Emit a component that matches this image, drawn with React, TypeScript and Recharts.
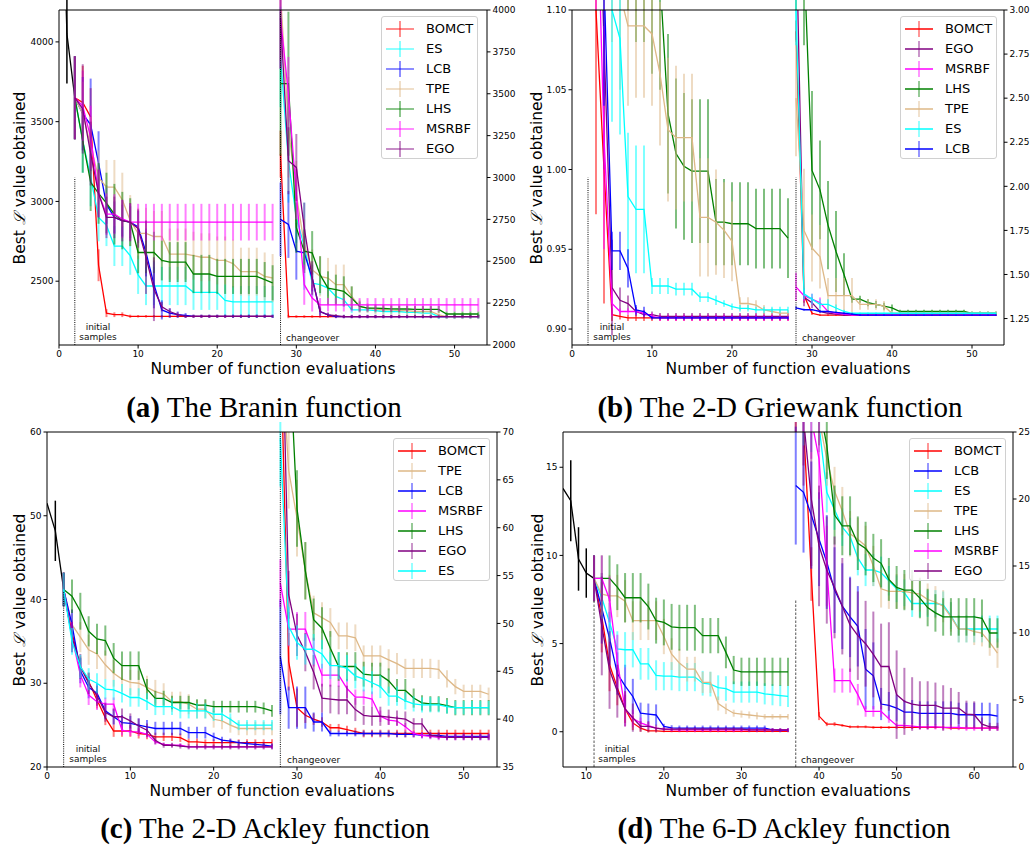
import React from 'react';
import { ComposedChart, Line, XAxis, YAxis, ErrorBar, ReferenceLine } from 'recharts';

const COLORS: Record<string, string> = {
  BOMCT: '#ff0000', ES: '#00ffff', LCB: '#0000ff', TPE: '#deb887',
  LHS: '#008000', MSRBF: '#ff00ff', EGO: '#800080',
};

// ---------- (a) Branin ----------
const A_ORDER = ['BOMCT', 'ES', 'LCB', 'TPE', 'LHS', 'MSRBF', 'EGO'];
const A_INIT_X0 = 0;
const A_INIT = [5800, 4050, 3650];
const A_INIT_ERR = [0, 310, 260];
const A_PRE_X0 = 2; // x = 2..27, left axis
const A_PRE: Record<string, number[]> = {
  BOMCT: [3650, 3620, 3530, 2600, 2300, 2290, 2290, 2280, 2280, 2280, 2280, 2280, 2280, 2280, 2280, 2280, 2280, 2280, 2280, 2280, 2280, 2280, 2280, 2280, 2280, 2280],
  ES: [3650, 3380, 3150, 2900, 2850, 2720, 2720, 2660, 2540, 2470, 2470, 2470, 2470, 2470, 2470, 2430, 2430, 2430, 2430, 2380, 2370, 2370, 2370, 2370, 2370, 2370],
  LCB: [3650, 3550, 3480, 3240, 2980, 2900, 2880, 2870, 2840, 2680, 2480, 2320, 2300, 2290, 2285, 2280, 2280, 2280, 2280, 2280, 2280, 2280, 2280, 2280, 2280, 2280],
  TPE: [3650, 3550, 3350, 3150, 3090, 3090, 3010, 2880, 2800, 2800, 2780, 2780, 2670, 2670, 2670, 2660, 2650, 2650, 2630, 2630, 2610, 2560, 2560, 2560, 2530, 2520],
  LHS: [3650, 3380, 3120, 3050, 2990, 2920, 2880, 2870, 2680, 2680, 2680, 2630, 2620, 2620, 2620, 2545, 2545, 2545, 2530, 2530, 2530, 2530, 2530, 2530, 2510, 2490],
  MSRBF: [3650, 3600, 3400, 3050, 2920, 2920, 2890, 2870, 2870, 2870, 2870, 2870, 2870, 2870, 2870, 2870, 2870, 2870, 2870, 2870, 2870, 2870, 2870, 2870, 2870, 2870],
  EGO: [3650, 3580, 3300, 3050, 2900, 2900, 2880, 2870, 2830, 2650, 2450, 2340, 2310, 2290, 2280, 2280, 2280, 2280, 2280, 2280, 2280, 2280, 2280, 2280, 2280, 2280],
};
const A_PRE_ERR: Record<string, number[]> = {
  BOMCT: [260, 230, 180, 100, 25, 15, 15, 10, 8, 8, 8, 8, 8, 8, 8, 8, 8, 8, 8, 8, 8, 8, 8, 8, 8, 8],
  ES: [260, 200, 180, 150, 130, 125, 125, 120, 120, 120, 120, 120, 120, 120, 120, 110, 110, 110, 110, 100, 100, 100, 100, 100, 100, 100],
  LCB: [260, 230, 290, 200, 120, 100, 100, 100, 100, 150, 150, 60, 30, 20, 15, 10, 10, 10, 10, 10, 10, 10, 10, 10, 10, 10],
  TPE: [260, 200, 180, 170, 170, 170, 170, 160, 160, 160, 160, 160, 160, 160, 160, 150, 150, 150, 150, 150, 150, 150, 150, 150, 150, 150],
  LHS: [260, 200, 180, 190, 190, 190, 180, 150, 130, 130, 130, 125, 125, 125, 125, 120, 120, 120, 110, 110, 110, 110, 110, 110, 110, 110],
  MSRBF: [260, 220, 200, 150, 130, 125, 120, 115, 115, 115, 115, 115, 115, 115, 115, 115, 115, 115, 115, 115, 115, 115, 115, 115, 115, 115],
  EGO: [260, 280, 200, 150, 130, 130, 130, 120, 120, 230, 200, 30, 20, 15, 10, 10, 10, 10, 10, 10, 10, 10, 10, 10, 10, 10],
};
const A_POST_X0 = 28; // x = 28..53, right axis
const A_POST: Record<string, number[]> = {
  BOMCT: [3140, 2170, 2170, 2170, 2170, 2170, 2170, 2170, 2170, 2170, 2170, 2170, 2170, 2170, 2170, 2170, 2170, 2170, 2170, 2170, 2170, 2170, 2170, 2170, 2170, 2170],
  ES: [3720, 3100, 2760, 2590, 2370, 2360, 2340, 2290, 2270, 2210, 2210, 2210, 2205, 2200, 2200, 2200, 2195, 2195, 2190, 2190, 2170, 2170, 2170, 2170, 2170, 2170],
  LCB: [2750, 2720, 2560, 2550, 2400, 2200, 2180, 2170, 2170, 2170, 2170, 2170, 2170, 2170, 2170, 2170, 2170, 2170, 2170, 2170, 2170, 2170, 2170, 2170, 2170, 2170],
  TPE: [4100, 3300, 2900, 2600, 2450, 2410, 2400, 2360, 2360, 2290, 2230, 2220, 2215, 2210, 2210, 2205, 2205, 2200, 2200, 2200, 2180, 2170, 2170, 2170, 2170, 2170],
  LHS: [3560, 3560, 2700, 2560, 2550, 2420, 2340, 2330, 2320, 2280, 2230, 2220, 2220, 2218, 2216, 2215, 2215, 2213, 2213, 2213, 2213, 2185, 2185, 2185, 2185, 2185],
  MSRBF: [3950, 3500, 2900, 2360, 2280, 2240, 2240, 2240, 2240, 2240, 2240, 2240, 2240, 2240, 2240, 2240, 2240, 2240, 2240, 2240, 2240, 2240, 2240, 2240, 2240, 2240],
  EGO: [3950, 3100, 3060, 2700, 2400, 2200, 2180, 2175, 2170, 2170, 2170, 2170, 2170, 2170, 2170, 2170, 2170, 2170, 2170, 2170, 2170, 2170, 2170, 2170, 2170, 2170],
};
const A_POST_ERR: Record<string, number[]> = {
  BOMCT: [140, 10, 8, 8, 8, 8, 8, 8, 8, 8, 8, 8, 8, 8, 8, 8, 8, 8, 8, 8, 8, 8, 8, 8, 8, 8],
  ES: [300, 250, 150, 260, 80, 60, 50, 40, 40, 20, 15, 15, 15, 15, 15, 15, 15, 15, 15, 15, 15, 15, 15, 15, 15, 15],
  LCB: [220, 200, 170, 100, 80, 20, 10, 10, 10, 10, 10, 10, 10, 10, 10, 10, 10, 10, 10, 10, 10, 10, 10, 10, 10, 10],
  TPE: [400, 300, 200, 150, 120, 120, 120, 120, 120, 60, 40, 30, 30, 30, 30, 30, 30, 30, 30, 30, 20, 15, 15, 15, 15, 15],
  LHS: [430, 430, 150, 130, 130, 110, 100, 90, 90, 70, 30, 20, 20, 20, 20, 20, 20, 20, 20, 20, 20, 15, 15, 15, 15, 15],
  MSRBF: [300, 220, 150, 120, 80, 40, 40, 40, 40, 40, 40, 40, 40, 40, 40, 40, 40, 40, 40, 40, 40, 40, 40, 40, 40, 40],
  EGO: [300, 200, 200, 150, 100, 30, 15, 10, 10, 10, 10, 10, 10, 10, 10, 10, 10, 10, 10, 10, 10, 10, 10, 10, 10, 10],
};

// ---------- (b) 2-D Griewank ----------
const B_ORDER = ['BOMCT', 'EGO', 'MSRBF', 'LHS', 'TPE', 'ES', 'LCB'];
const B_PRE_X0 = 2;
const B_PRE: Record<string, number[]> = {
  BOMCT: [1.35, 1.10, 1.00, 0.909, 0.908, 0.907, 0.907, 0.907, 0.907, 0.907, 0.907, 0.907, 0.907, 0.907, 0.907, 0.907, 0.907, 0.907, 0.907, 0.907, 0.907, 0.907, 0.907, 0.907, 0.907, 0.907],
  EGO: [1.4, 1.25, 1.08, 0.926, 0.918, 0.916, 0.911, 0.909, 0.909, 0.908, 0.908, 0.908, 0.908, 0.908, 0.908, 0.908, 0.908, 0.908, 0.908, 0.908, 0.908, 0.908, 0.908, 0.908, 0.908, 0.908],
  MSRBF: [1.4, 1.2, 1.02, 0.916, 0.911, 0.911, 0.911, 0.910, 0.908, 0.907, 0.907, 0.907, 0.907, 0.907, 0.907, 0.907, 0.907, 0.907, 0.907, 0.907, 0.907, 0.907, 0.907, 0.907, 0.907, 0.907],
  LHS: [1.6, 1.55, 1.5, 1.45, 1.35, 1.25, 1.2, 1.18, 1.15, 1.12, 1.035, 1.01, 1.002, 0.999, 0.999, 0.999, 0.967, 0.967, 0.966, 0.966, 0.966, 0.963, 0.963, 0.963, 0.963, 0.957],
  TPE: [1.4, 1.3, 1.2, 1.15, 1.11, 1.09, 1.09, 1.09, 1.085, 1.06, 1.025, 1.02, 1.02, 1.02, 0.97, 0.97, 0.967, 0.962, 0.955, 0.916, 0.916, 0.915, 0.912, 0.911, 0.910, 0.910],
  ES: [1.5, 1.3, 1.2, 1.10, 1.082, 0.983, 0.975, 0.975, 0.927, 0.927, 0.927, 0.925, 0.925, 0.925, 0.920, 0.920, 0.918, 0.916, 0.914, 0.913, 0.913, 0.912, 0.912, 0.912, 0.912, 0.912],
  LCB: [1.5, 1.3, 1.12, 0.949, 0.949, 0.938, 0.912, 0.911, 0.907, 0.907, 0.907, 0.907, 0.907, 0.907, 0.907, 0.907, 0.907, 0.907, 0.907, 0.907, 0.907, 0.907, 0.907, 0.907, 0.907, 0.907],
};
const B_PRE_ERR: Record<string, number[]> = {
  BOMCT: [0.15, 0.128, 0.084, 0.004, 0.002, 0.002, 0.002, 0.002, 0.002, 0.002, 0.002, 0.002, 0.002, 0.002, 0.002, 0.002, 0.002, 0.002, 0.002, 0.002, 0.002, 0.002, 0.002, 0.002, 0.002, 0.002],
  EGO: [0.15, 0.1, 0.08, 0.03, 0.008, 0.005, 0.003, 0.002, 0.002, 0.002, 0.002, 0.002, 0.002, 0.002, 0.002, 0.002, 0.002, 0.002, 0.002, 0.002, 0.002, 0.002, 0.002, 0.002, 0.002, 0.002],
  MSRBF: [0.15, 0.1, 0.07, 0.008, 0.002, 0.002, 0.002, 0.002, 0.002, 0.002, 0.002, 0.002, 0.002, 0.002, 0.002, 0.002, 0.002, 0.002, 0.002, 0.002, 0.002, 0.002, 0.002, 0.002, 0.002, 0.002],
  LHS: [0.3, 0.3, 0.3, 0.25, 0.2, 0.15, 0.12, 0.1, 0.09, 0.07, 0.05, 0.047, 0.046, 0.045, 0.045, 0.045, 0.027, 0.027, 0.026, 0.026, 0.026, 0.025, 0.025, 0.025, 0.025, 0.025],
  TPE: [0.1, 0.1, 0.08, 0.07, 0.06, 0.05, 0.045, 0.045, 0.045, 0.045, 0.045, 0.045, 0.04, 0.04, 0.037, 0.037, 0.033, 0.03, 0.025, 0.004, 0.004, 0.003, 0.003, 0.002, 0.002, 0.002],
  ES: [0.1, 0.1, 0.08, 0.07, 0.06, 0.04, 0.04, 0.04, 0.005, 0.005, 0.005, 0.004, 0.004, 0.004, 0.003, 0.003, 0.003, 0.002, 0.002, 0.002, 0.002, 0.002, 0.002, 0.002, 0.002, 0.002],
  LCB: [0.1, 0.1, 0.08, 0.012, 0.012, 0.012, 0.003, 0.003, 0.001, 0.001, 0.001, 0.001, 0.001, 0.001, 0.001, 0.001, 0.001, 0.001, 0.001, 0.001, 0.001, 0.001, 0.001, 0.001, 0.001, 0.001],
};
const B_POST_X0 = 28;
const B_POST: Record<string, number[]> = {
  BOMCT: [2.88, 1.38, 1.28, 1.27, 1.27, 1.27, 1.27, 1.27, 1.27, 1.27, 1.27, 1.27, 1.27, 1.27, 1.27, 1.27, 1.27, 1.27, 1.27, 1.27, 1.27, 1.27, 1.27, 1.27, 1.27, 1.27],
  EGO: [3.5, 1.37, 1.34, 1.29, 1.28, 1.275, 1.27, 1.27, 1.27, 1.27, 1.27, 1.27, 1.27, 1.27, 1.27, 1.27, 1.27, 1.27, 1.27, 1.27, 1.27, 1.27, 1.27, 1.27, 1.27, 1.27],
  MSRBF: [1.43, 1.38, 1.36, 1.34, 1.29, 1.28, 1.275, 1.27, 1.27, 1.27, 1.27, 1.27, 1.27, 1.27, 1.27, 1.27, 1.27, 1.27, 1.27, 1.27, 1.27, 1.27, 1.27, 1.27, 1.27, 1.27],
  LHS: [3.5, 3.3, 2.09, 1.98, 1.78, 1.63, 1.50, 1.36, 1.36, 1.34, 1.33, 1.32, 1.31, 1.29, 1.29, 1.29, 1.29, 1.29, 1.29, 1.29, 1.29, 1.29, 1.28, 1.28, 1.28, 1.28],
  TPE: [2.5, 1.75, 1.65, 1.60, 1.38, 1.38, 1.38, 1.38, 1.33, 1.33, 1.33, 1.32, 1.28, 1.28, 1.28, 1.28, 1.28, 1.28, 1.28, 1.28, 1.28, 1.28, 1.28, 1.28, 1.28, 1.28],
  ES: [3.0, 1.39, 1.36, 1.33, 1.33, 1.31, 1.29, 1.28, 1.28, 1.28, 1.28, 1.28, 1.28, 1.28, 1.28, 1.28, 1.28, 1.28, 1.28, 1.28, 1.28, 1.28, 1.28, 1.28, 1.28, 1.28],
  LCB: [1.31, 1.30, 1.30, 1.29, 1.29, 1.285, 1.28, 1.275, 1.27, 1.27, 1.27, 1.27, 1.27, 1.27, 1.27, 1.27, 1.27, 1.27, 1.27, 1.27, 1.27, 1.27, 1.27, 1.27, 1.27, 1.27],
};
const B_POST_ERR: Record<string, number[]> = {
  BOMCT: [0.06, 0.04, 0.01, 0.005, 0.005, 0.005, 0.005, 0.005, 0.005, 0.005, 0.005, 0.005, 0.005, 0.005, 0.005, 0.005, 0.005, 0.005, 0.005, 0.005, 0.005, 0.005, 0.005, 0.005, 0.005, 0.005],
  EGO: [0.3, 0.05, 0.03, 0.01, 0.005, 0.005, 0.005, 0.005, 0.005, 0.005, 0.005, 0.005, 0.005, 0.005, 0.005, 0.005, 0.005, 0.005, 0.005, 0.005, 0.005, 0.005, 0.005, 0.005, 0.005, 0.005],
  MSRBF: [0.08, 0.03, 0.03, 0.03, 0.01, 0.005, 0.005, 0.005, 0.005, 0.005, 0.005, 0.005, 0.005, 0.005, 0.005, 0.005, 0.005, 0.005, 0.005, 0.005, 0.005, 0.005, 0.005, 0.005, 0.005, 0.005],
  LHS: [0.5, 0.5, 0.45, 0.28, 0.25, 0.23, 0.12, 0.02, 0.02, 0.02, 0.02, 0.02, 0.02, 0.01, 0.01, 0.01, 0.01, 0.01, 0.01, 0.01, 0.01, 0.01, 0.01, 0.01, 0.01, 0.01],
  TPE: [0.33, 0.35, 0.19, 0.18, 0.1, 0.1, 0.1, 0.1, 0.03, 0.03, 0.03, 0.03, 0.01, 0.01, 0.01, 0.01, 0.01, 0.01, 0.01, 0.01, 0.01, 0.01, 0.01, 0.01, 0.01, 0.01],
  ES: [0.2, 0.03, 0.03, 0.03, 0.03, 0.02, 0.01, 0.005, 0.005, 0.005, 0.005, 0.005, 0.005, 0.005, 0.005, 0.005, 0.005, 0.005, 0.005, 0.005, 0.005, 0.005, 0.005, 0.005, 0.005, 0.005],
  LCB: [0.01, 0.005, 0.005, 0.005, 0.005, 0.005, 0.005, 0.005, 0.005, 0.005, 0.005, 0.005, 0.005, 0.005, 0.005, 0.005, 0.005, 0.005, 0.005, 0.005, 0.005, 0.005, 0.005, 0.005, 0.005, 0.005],
};

// ---------- (c) 2-D Ackley ----------
const C_ORDER = ['BOMCT', 'TPE', 'LCB', 'MSRBF', 'LHS', 'EGO', 'ES'];
const C_INIT_X0 = 0;
const C_INIT = [51.5, 48.2, 41.2];
const C_INIT_ERR = [0, 3.6, 2.0];
const C_PRE_X0 = 2;
const C_PRE: Record<string, number[]> = {
  BOMCT: [41.2, 36, 32, 30.2, 28, 25.9, 24.3, 24.3, 24.3, 24.0, 23.9, 23.6, 23.6, 23.6, 23.5, 23.0, 23.0, 22.9, 22.9, 22.9, 22.9, 22.9, 22.9, 22.9, 22.9, 22.9],
  TPE: [41.2, 37, 35.5, 34, 33.5, 32.2, 31.2, 30.5, 30.1, 30.0, 29.5, 29.0, 28.7, 27.8, 27.8, 27.5, 26.9, 26.9, 25.7, 25.5, 25.0, 24.6, 24.6, 24.6, 24.6, 24.6],
  LCB: [41.2, 37, 31.5, 29.5, 28.8, 26.7, 26.0, 25.3, 25.2, 25.0, 24.8, 24.6, 24.6, 24.6, 24.6, 24.1, 24.1, 24.1, 23.6, 23.2, 23.1, 22.9, 22.8, 22.7, 22.6, 22.5],
  MSRBF: [41.2, 35.5, 31, 28.6, 27.8, 27.5, 27.5, 24.4, 24.2, 24.2, 23.9, 23.0, 22.7, 22.6, 22.6, 22.4, 22.4, 22.4, 22.4, 22.4, 22.4, 22.4, 22.4, 22.4, 22.4, 22.4],
  LHS: [41.2, 40.4, 38.6, 36.2, 35.3, 35.1, 33.0, 32.1, 32.1, 32.1, 29.3, 28.2, 28.2, 27.7, 27.7, 27.7, 27.4, 27.4, 27.2, 27.2, 27.2, 27.2, 27.2, 27.2, 27.0, 26.7],
  EGO: [41.2, 35.5, 32, 30, 28.5, 26.5, 26.0, 26.0, 25.5, 24.9, 24.4, 23.2, 22.6, 22.6, 22.5, 22.4, 22.4, 22.4, 22.4, 22.4, 22.4, 22.4, 22.4, 22.4, 22.4, 22.4],
  ES: [41.2, 35, 32, 30.5, 30.0, 29.3, 29.2, 28.8, 28.3, 28.3, 27.8, 27.2, 27.2, 27.2, 26.7, 26.7, 26.7, 26.7, 26.3, 26.3, 25.7, 25.0, 25.0, 25.0, 25.0, 25.0],
};
const C_PRE_ERR: Record<string, number[]> = {
  BOMCT: [2, 1.5, 1.2, 1.0, 1.0, 0.9, 0.7, 0.7, 0.7, 0.6, 0.6, 0.5, 0.5, 0.5, 0.5, 0.4, 0.4, 0.4, 0.4, 0.4, 0.4, 0.4, 0.4, 0.4, 0.4, 0.4],
  TPE: [2, 1.8, 1.8, 1.8, 1.8, 1.7, 1.6, 1.5, 1.5, 1.5, 1.4, 1.4, 1.3, 1.2, 1.2, 1.2, 1.1, 1.1, 1.0, 1.0, 0.9, 0.8, 0.8, 0.8, 0.8, 0.8],
  LCB: [2, 1.8, 1.5, 1.3, 1.2, 1.0, 0.9, 0.9, 0.9, 0.8, 0.8, 0.8, 0.8, 0.8, 0.8, 0.7, 0.7, 0.7, 0.5, 0.4, 0.3, 0.3, 0.3, 0.3, 0.3, 0.3],
  MSRBF: [2, 1.8, 1.5, 1.2, 1.0, 0.8, 0.8, 0.6, 0.5, 0.5, 0.4, 0.3, 0.2, 0.2, 0.2, 0.2, 0.2, 0.2, 0.2, 0.2, 0.2, 0.2, 0.2, 0.2, 0.2, 0.2],
  LHS: [2, 2, 2.2, 1.8, 1.8, 1.8, 1.8, 1.7, 1.7, 1.7, 1.2, 0.9, 0.9, 0.8, 0.8, 0.8, 0.7, 0.7, 0.7, 0.7, 0.7, 0.7, 0.7, 0.7, 0.7, 0.7],
  EGO: [2, 1.8, 1.5, 1.3, 1.2, 1.1, 1.0, 1.0, 0.9, 0.9, 0.8, 0.5, 0.3, 0.3, 0.3, 0.3, 0.3, 0.3, 0.3, 0.3, 0.3, 0.3, 0.3, 0.3, 0.3, 0.3],
  ES: [2, 1.6, 1.4, 1.3, 1.2, 1.2, 1.2, 1.1, 1.1, 1.1, 1.0, 1.0, 1.0, 1.0, 0.9, 0.9, 0.9, 0.9, 0.8, 0.8, 0.7, 0.6, 0.6, 0.6, 0.6, 0.6],
};
const C_POST_X0 = 28;
const C_POST: Record<string, number[]> = {
  BOMCT: [80, 46.0, 41.2, 40.4, 40.0, 39.7, 39.1, 39.1, 38.9, 38.7, 38.5, 38.5, 38.5, 38.5, 38.5, 38.5, 38.5, 38.5, 38.5, 38.5, 38.5, 38.5, 38.5, 38.5, 38.5, 38.5],
  TPE: [80, 66, 61, 55.5, 51.1, 50.6, 50.1, 48.7, 48.7, 48.5, 46.6, 46.6, 46.6, 46.2, 45.8, 45.3, 45.3, 45.3, 45.3, 45.2, 44.2, 43.4, 42.9, 42.9, 42.9, 42.6],
  LCB: [46.5, 41.2, 41.2, 41.2, 39.7, 39.7, 38.5, 38.5, 38.5, 38.5, 38.5, 38.5, 38.5, 38.5, 38.4, 38.4, 38.4, 38.3, 38.3, 38.3, 38.2, 38.2, 38.2, 38.2, 38.2, 38.2],
  MSRBF: [54.2, 49.4, 49.4, 49.4, 47.0, 44.6, 44.6, 44.6, 43.2, 42.3, 42.3, 42.1, 40.3, 39.9, 39.8, 39.2, 38.5, 38.3, 38.2, 38.1, 38.1, 38.1, 38.1, 38.1, 38.1, 38.1],
  LHS: [90, 80, 62, 55.5, 50.4, 49.5, 47.4, 45.5, 45.5, 45.5, 44.7, 44.6, 44.6, 44.0, 43.0, 43.0, 42.2, 41.7, 41.6, 41.6, 41.4, 41.2, 41.2, 41.2, 41.2, 41.2],
  EGO: [90, 53, 48.8, 47.0, 44.9, 42.2, 42.1, 42.0, 42.0, 41.0, 40.4, 40.3, 40.3, 40.2, 40.1, 40.0, 39.5, 39.5, 38.3, 38.2, 38.1, 38.1, 38.1, 38.1, 38.1, 38.1],
  ES: [69.3, 49.7, 48.0, 47.3, 47.3, 46.8, 45.6, 45.6, 45.3, 44.5, 44.2, 43.8, 43.4, 42.4, 42.4, 41.9, 41.6, 41.5, 41.5, 41.5, 41.3, 41.2, 41.2, 41.2, 41.2, 41.2],
};
const C_POST_ERR: Record<string, number[]> = {
  BOMCT: [5, 3, 2, 0.8, 0.6, 0.5, 0.4, 0.4, 0.4, 0.4, 0.4, 0.4, 0.4, 0.4, 0.4, 0.4, 0.4, 0.4, 0.4, 0.4, 0.4, 0.4, 0.4, 0.4, 0.4, 0.4],
  TPE: [5, 4, 4, 3, 1.8, 1.6, 1.5, 1.4, 1.4, 1.4, 1.1, 1.1, 1.1, 1.1, 1.1, 1.0, 1.0, 1.0, 1.0, 1.0, 0.9, 0.8, 0.7, 0.7, 0.7, 0.7],
  LCB: [6, 2.2, 2.2, 2.2, 1, 1, 0.3, 0.3, 0.3, 0.3, 0.3, 0.3, 0.3, 0.3, 0.3, 0.3, 0.3, 0.3, 0.3, 0.3, 0.3, 0.3, 0.3, 0.3, 0.3, 0.3],
  MSRBF: [2.5, 1.8, 1.8, 1.8, 1.5, 1.2, 1.2, 1.2, 1.0, 0.8, 0.8, 0.8, 0.6, 0.5, 0.5, 0.4, 0.3, 0.3, 0.3, 0.3, 0.3, 0.3, 0.3, 0.3, 0.3, 0.3],
  LHS: [6, 6, 4, 3, 2.2, 2.2, 1.8, 1.5, 1.5, 1.5, 1.3, 1.3, 1.3, 1.3, 1.2, 1.2, 1.0, 0.8, 0.8, 0.8, 0.8, 0.8, 0.8, 0.8, 0.8, 0.8],
  EGO: [6, 2.5, 2.2, 2, 1.8, 1.5, 1.5, 1.5, 1.5, 1.2, 1.0, 1.0, 1.0, 0.8, 0.8, 0.8, 0.6, 0.6, 0.3, 0.3, 0.3, 0.3, 0.3, 0.3, 0.3, 0.3],
  ES: [5, 2, 1.8, 1.6, 1.6, 1.5, 1.4, 1.4, 1.4, 1.3, 1.3, 1.2, 1.2, 1.0, 1.0, 0.9, 0.8, 0.8, 0.8, 0.8, 0.7, 0.7, 0.7, 0.7, 0.7, 0.7],
};

// ---------- (d) 6-D Ackley ----------
const D_ORDER = ['BOMCT', 'LCB', 'ES', 'TPE', 'LHS', 'MSRBF', 'EGO'];
const D_INIT_X0 = 7;
const D_INIT = [13.8, 13.1, 9.8, 9.0, 8.7];
const D_INIT_ERR = [0, 2.3, 1.8, 1.4, 1.3];
const D_PRE_X0 = 11; // x = 11..36
const D_PRE: Record<string, number[]> = {
  BOMCT: [8.7, 6.5, 3.8, 2.5, 1.3, 0.5, 0.2, 0.05, 0.05, 0.02, 0.02, 0.02, 0.02, 0.02, 0.02, 0.02, 0.02, 0.02, 0.02, 0.02, 0.02, 0.02, 0.02, 0.02, 0.02, 0.02],
  LCB: [8.7, 7.0, 5.3, 3.3, 2.6, 2.0, 1.05, 1.0, 0.95, 0.3, 0.22, 0.2, 0.2, 0.2, 0.2, 0.2, 0.2, 0.2, 0.2, 0.2, 0.2, 0.2, 0.2, 0.1, 0.08, 0.08],
  ES: [8.7, 7.6, 6.2, 4.7, 4.65, 4.65, 3.85, 3.85, 3.2, 3.15, 3.15, 3.1, 3.1, 3.1, 2.75, 2.7, 2.5, 2.45, 2.25, 2.25, 2.25, 2.25, 2.15, 2.1, 2.05, 2.0],
  TPE: [8.7, 7.8, 7.7, 7.7, 7.4, 6.3, 6.3, 6.3, 6.3, 5.4, 4.4, 3.9, 3.55, 3.55, 2.8, 2.8, 1.6, 1.3, 1.05, 1.0, 0.95, 0.9, 0.85, 0.85, 0.85, 0.85],
  LHS: [8.7, 8.7, 8.7, 8.2, 7.6, 7.6, 7.6, 7.1, 6.3, 6.2, 5.95, 5.9, 5.9, 5.9, 5.45, 5.45, 5.45, 4.5, 3.5, 3.4, 3.4, 3.4, 3.4, 3.4, 3.4, 3.4],
  MSRBF: [8.7, 8.7, 7.5, 4.0, 1.3, 0.75, 0.5, 0.35, 0.2, 0.15, 0.12, 0.1, 0.1, 0.1, 0.1, 0.1, 0.1, 0.1, 0.1, 0.1, 0.1, 0.1, 0.1, 0.1, 0.1, 0.1],
  EGO: [8.7, 6.0, 3.5, 2.3, 1.3, 0.8, 0.3, 0.3, 0.2, 0.15, 0.15, 0.15, 0.15, 0.15, 0.15, 0.15, 0.15, 0.15, 0.15, 0.15, 0.1, 0.1, 0.1, 0.1, 0.1, 0.1],
};
const D_PRE_ERR: Record<string, number[]> = {
  BOMCT: [1.3, 2.0, 1.5, 1.0, 0.8, 0.4, 0.2, 0.1, 0.1, 0.05, 0.05, 0.05, 0.05, 0.05, 0.05, 0.05, 0.05, 0.05, 0.05, 0.05, 0.05, 0.05, 0.05, 0.05, 0.05, 0.05],
  LCB: [1.3, 2, 1.5, 1.2, 1.2, 1.0, 0.6, 0.6, 0.6, 0.15, 0.15, 0.15, 0.15, 0.15, 0.15, 0.15, 0.15, 0.15, 0.15, 0.15, 0.15, 0.15, 0.15, 0.1, 0.1, 0.1],
  ES: [1.3, 1.2, 1.1, 1.0, 1.0, 1.0, 0.9, 0.9, 0.85, 0.8, 0.8, 0.8, 0.8, 0.8, 0.7, 0.7, 0.7, 0.7, 0.6, 0.6, 0.6, 0.6, 0.6, 0.6, 0.6, 0.6],
  TPE: [1.3, 1.2, 1.2, 1.2, 1.2, 1.1, 1.1, 1.1, 1.1, 1.0, 0.9, 0.8, 0.7, 0.7, 0.6, 0.6, 0.4, 0.3, 0.2, 0.2, 0.2, 0.2, 0.15, 0.15, 0.15, 0.15],
  LHS: [1.3, 1.3, 1.3, 1.3, 1.4, 1.4, 1.4, 1.3, 1.3, 1.3, 1.3, 1.3, 1.3, 1.3, 1.0, 1.0, 1.0, 0.9, 0.8, 0.8, 0.8, 0.8, 0.8, 0.8, 0.8, 0.8],
  MSRBF: [1.3, 1.3, 1.3, 1.5, 1.0, 0.5, 0.3, 0.2, 0.1, 0.1, 0.1, 0.1, 0.1, 0.1, 0.1, 0.1, 0.1, 0.1, 0.1, 0.1, 0.1, 0.1, 0.1, 0.1, 0.1, 0.1],
  EGO: [1.3, 2.8, 2.2, 1.5, 1.0, 0.8, 0.3, 0.3, 0.2, 0.1, 0.1, 0.1, 0.1, 0.1, 0.1, 0.1, 0.1, 0.1, 0.1, 0.1, 0.1, 0.1, 0.1, 0.1, 0.1, 0.1],
};
const D_POST_X0 = 37; // x = 37..63
const D_POST: Record<string, number[]> = {
  BOMCT: [28, 25.5, 14.4, 3.8, 3.2, 3.2, 3.1, 3.0, 3.0, 3.0, 2.95, 2.95, 2.95, 2.95, 2.95, 2.95, 2.95, 2.95, 2.95, 2.95, 2.9, 2.9, 2.9, 2.9, 2.9, 2.9, 2.9],
  LCB: [21.0, 20.5, 18.8, 17.0, 15.3, 13.2, 12.0, 11.2, 10.5, 7.3, 6.8, 4.7, 4.6, 4.4, 4.1, 4.1, 4.0, 4.0, 4.0, 4.0, 4.0, 3.9, 3.9, 3.9, 3.9, 3.9, 3.8],
  ES: [35, 27, 26, 25.5, 20.5, 19.2, 17.9, 17.2, 15.6, 14.7, 14.7, 14.5, 13.9, 13.3, 13.0, 12.2, 12.2, 12.2, 12.2, 12.1, 11.3, 10.3, 10.3, 10.3, 10.3, 10.3, 10.3],
  TPE: [35, 30, 28, 26, 23.0, 20.6, 19.1, 17.4, 17.0, 16.5, 15.0, 13.3, 13.1, 13.1, 13.1, 13.0, 12.9, 12.5, 12.3, 12.0, 11.2, 10.3, 10.3, 10.1, 10.0, 9.3, 8.5],
  LHS: [40, 35, 30, 27, 24.0, 18.8, 18.0, 18.0, 16.7, 16.3, 15.6, 15.2, 14.0, 13.4, 13.2, 13.2, 12.6, 11.9, 11.5, 11.2, 11.2, 11.2, 11.2, 11.2, 11.1, 10.0, 10.0],
  MSRBF: [32, 28, 26, 23, 15, 6.45, 6.45, 6.45, 5.4, 4.15, 4.15, 4.15, 3.6, 3.1, 3.1, 3.05, 3.0, 3.0, 3.0, 2.95, 2.95, 2.95, 2.9, 2.9, 2.9, 2.9, 2.9],
  EGO: [30, 26, 20, 16.5, 14.7, 13.4, 12.0, 10.6, 9.8, 9.2, 8.4, 7.5, 7.5, 5.4, 4.9, 4.7, 4.6, 4.6, 4.6, 4.4, 4.4, 4.4, 3.95, 3.9, 3.2, 3.0, 3.0],
};
const D_POST_ERR: Record<string, number[]> = {
  BOMCT: [3, 3, 2, 0.3, 0.15, 0.15, 0.1, 0.1, 0.1, 0.1, 0.1, 0.1, 0.1, 0.1, 0.1, 0.1, 0.1, 0.1, 0.1, 0.1, 0.1, 0.1, 0.1, 0.1, 0.1, 0.1, 0.1],
  LCB: [4.4, 4.5, 4, 3.5, 3.5, 3.2, 3.2, 3, 3, 3, 2.5, 1.2, 1.0, 1.0, 0.9, 0.9, 0.9, 0.9, 0.9, 0.9, 0.9, 0.9, 0.9, 0.9, 0.9, 0.9, 0.9],
  ES: [3, 3, 2.5, 2, 1.5, 1.5, 1.4, 1.4, 1.3, 1.2, 1.2, 1.2, 1.1, 1.0, 1.0, 1.0, 1.0, 1.0, 1.0, 1.0, 1.0, 1.0, 1.0, 1.0, 1.0, 1.0, 1.0],
  TPE: [3, 3, 3, 2.5, 2, 1.8, 1.8, 1.7, 1.6, 1.5, 1.5, 1.4, 1.3, 1.3, 1.3, 1.3, 1.3, 1.2, 1.2, 1.2, 1.1, 1.0, 1.0, 1.0, 1.0, 1.0, 1.1],
  LHS: [4, 4, 3, 3, 2.5, 2.2, 2.2, 2.2, 2, 2, 1.8, 1.8, 1.6, 1.6, 1.5, 1.5, 1.5, 1.4, 1.4, 1.4, 1.4, 1.4, 1.4, 1.4, 1.4, 1.1, 1.1],
  MSRBF: [3, 3, 3, 3, 3, 0.9, 0.9, 0.9, 0.8, 0.4, 0.4, 0.4, 0.3, 0.2, 0.2, 0.2, 0.2, 0.2, 0.2, 0.2, 0.2, 0.2, 0.2, 0.2, 0.2, 0.2, 0.2],
  EGO: [5, 5, 5, 4.5, 4, 3.8, 3.6, 3.5, 3.3, 3.2, 3.2, 3.2, 3.3, 3.3, 2.5, 2.0, 1.8, 1.8, 1.7, 1.7, 1.5, 1.2, 1.0, 1.0, 0.5, 0.3, 0.3],
};

type Series = Record<string, number[]>;

function buildRows(initX0: number, init: number[], initErr: number[], preX0: number, pre: Series, preErr: Series, postX0: number, post: Series, postErr: Series) {
  const rows = new Map<number, any>();
  const row = (x: number) => {
    if (!rows.has(x)) rows.set(x, { x });
    return rows.get(x);
  };
  init.forEach((v, i) => {
    const r = row(initX0 + i);
    r.init = v;
    if (initErr[i]) r.init_e = initErr[i];
  });
  Object.keys(pre).forEach((k) => pre[k].forEach((v, i) => {
    const r = row(preX0 + i);
    r[k + '_p'] = v;
    r[k + '_pe'] = preErr[k][i];
  }));
  Object.keys(post).forEach((k) => post[k].forEach((v, i) => {
    const r = row(postX0 + i);
    r[k + '_q'] = v;
    r[k + '_qe'] = postErr[k][i];
  }));
  return Array.from(rows.values()).sort((a, b) => a.x - b.x);
}

const TICK = { fontSize: 9, fill: '#000' };

function LegendBox({ left, top, order, faded }: { left: number; top: number; order: string[]; faded?: boolean }) {
  return (
    <div style={{
      position: 'absolute', left, top, width: 97, height: 143, boxSizing: 'border-box',
      border: '1px solid #d0d0d0', borderRadius: 3, background: 'rgba(255,255,255,0.85)',
    }}>
      {order.map((k, i) => (
        <div key={k} style={{ position: 'absolute', left: 4, top: 2 + i * 20, height: 20, display: 'flex', alignItems: 'center' }}>
          <svg width={28} height={18} style={{ display: 'block' }}>
            <line x1={0} x2={28} y1={9} y2={9} stroke={COLORS[k]} strokeWidth={1.5} strokeOpacity={faded ? 0.6 : 1} />
            <line x1={14} x2={14} y1={1} y2={17} stroke={COLORS[k]} strokeWidth={1.5} strokeOpacity={faded ? 0.6 : 0.55} />
          </svg>
          <span style={{ marginLeft: 12, fontSize: 13, lineHeight: '20px', color: '#000' }}>{k}</span>
        </div>
      ))}
    </div>
  );
}

type PanelProps = {
  left: number; top: number; width: number; lW: number; rW: number;
  rows: any[]; order: string[]; hasInit: boolean;
  xDomain: [number, number]; xTicks: number[];
  lDomain: [number, number]; lTicks: number[];
  rDomain: [number, number]; rTicks: number[];
  fmt?: (v: number) => string;
  initX: number; initTop: number; changeX: number; changeAxis: 'L' | 'R'; changeFrom: number; changeTo: number;
  dashed?: boolean;
  initLabelX: number; changeLabelX: number; yTitleX: number;
  legendLeft: number; fadedLegend?: boolean;
};

const HEIGHT = 380;

function Panel(p: PanelProps) {
  const dash = p.dashed ? '2.5 1.5' : '1 1.2';
  const dashColor = p.dashed ? '#555' : '#000';
  const plotCx = p.lW + (p.width - p.lW - p.rW) / 2;
  return (
    <div style={{ position: 'absolute', left: p.left, top: p.top, width: p.width, height: HEIGHT }}>
      <ComposedChart width={p.width} height={HEIGHT} data={p.rows} margin={{ top: 10, right: 0, bottom: 0, left: 0 }}>
        <XAxis dataKey="x" type="number" domain={p.xDomain} ticks={p.xTicks} allowDataOverflow interval={0}
          height={35} tickSize={3.5} tick={TICK} stroke="#000" />
        <YAxis yAxisId="L" type="number" domain={p.lDomain} ticks={p.lTicks} allowDataOverflow interval={0}
          width={p.lW} tickSize={3.5} tick={TICK} stroke="#000" tickFormatter={p.fmt} />
        <YAxis yAxisId="R" orientation="right" type="number" domain={p.rDomain} ticks={p.rTicks} allowDataOverflow interval={0}
          width={p.rW} tickSize={3.5} tick={TICK} stroke="#000" tickFormatter={p.fmt} />
        {p.hasInit && (
          <Line yAxisId="L" dataKey="init" stroke="#000" strokeWidth={1.3} dot={false} isAnimationActive={false} legendType="none">
            <ErrorBar dataKey="init_e" width={0} stroke="#000" strokeWidth={1.5} />
          </Line>
        )}
        {p.order.map((k) => (
          <Line key={k + 'p'} yAxisId="L" dataKey={k + '_p'} stroke={COLORS[k]} strokeWidth={1.3} dot={false}
            isAnimationActive={false} legendType="none">
            <ErrorBar dataKey={k + '_pe'} width={0} stroke={COLORS[k]} strokeWidth={2} strokeOpacity={0.5} />
          </Line>
        ))}
        {p.order.map((k) => (
          <Line key={k + 'q'} yAxisId="R" dataKey={k + '_q'} stroke={COLORS[k]} strokeWidth={1.3} dot={false}
            isAnimationActive={false} legendType="none">
            <ErrorBar dataKey={k + '_qe'} width={0} stroke={COLORS[k]} strokeWidth={2} strokeOpacity={0.5} />
          </Line>
        ))}
        <ReferenceLine yAxisId="L" segment={[{ x: p.initX, y: p.lDomain[0] }, { x: p.initX, y: p.initTop }]}
          stroke={dashColor} strokeDasharray={dash} strokeWidth={1} />
        <ReferenceLine yAxisId={p.changeAxis} segment={[{ x: p.changeX, y: p.changeFrom }, { x: p.changeX, y: p.changeTo }]}
          stroke={dashColor} strokeDasharray={dash} strokeWidth={1} />
        <ReferenceLine yAxisId="L" y={p.lDomain[1]} stroke="#000" strokeWidth={1} />
      </ComposedChart>
      <div style={{ position: 'absolute', left: p.initLabelX - 40, width: 80, top: 322, textAlign: 'center', fontSize: 9, lineHeight: '10px', color: '#111' }}>
        initial<br />samples
      </div>
      <div style={{ position: 'absolute', left: p.changeLabelX, top: 333, fontSize: 9, lineHeight: '10px', color: '#111' }}>
        changeover
      </div>
      <div style={{ position: 'absolute', left: plotCx - 160, width: 320, top: 360, textAlign: 'center', fontSize: 15.5, lineHeight: '18px', color: '#000' }}>
        Number of function evaluations
      </div>
      <div style={{
        position: 'absolute', left: p.yTitleX, top: 178, transform: 'translate(-50%, -50%) rotate(-90deg)',
        whiteSpace: 'nowrap', fontSize: 15.5, lineHeight: '18px', color: '#000',
      }}>
        Best <span style={{ fontFamily: 'DejaVu Serif', fontStyle: 'italic' }}>ℒ</span> value obtained
      </div>
      <LegendBox left={p.legendLeft} top={16} order={p.order} faded={p.fadedLegend} />
    </div>
  );
}

function Caption({ cx, cy, tag, text }: { cx: number; cy: number; tag: string; text: string }) {
  return (
    <div style={{
      position: 'absolute', left: cx - 250, width: 500, top: cy - 18, textAlign: 'center',
      fontFamily: '"Liberation Serif", "Times New Roman", serif', fontSize: 29, lineHeight: '36px', color: '#000',
    }}>
      <b>{tag}</b> {text}
    </div>
  );
}

const rowsA = buildRows(A_INIT_X0, A_INIT, A_INIT_ERR, A_PRE_X0, A_PRE, A_PRE_ERR, A_POST_X0, A_POST, A_POST_ERR);
const rowsB = buildRows(0, [], [], B_PRE_X0, B_PRE, B_PRE_ERR, B_POST_X0, B_POST, B_POST_ERR);
const rowsC = buildRows(C_INIT_X0, C_INIT, C_INIT_ERR, C_PRE_X0, C_PRE, C_PRE_ERR, C_POST_X0, C_POST, C_POST_ERR);
const rowsD = buildRows(D_INIT_X0, D_INIT, D_INIT_ERR, D_PRE_X0, D_PRE, D_PRE_ERR, D_POST_X0, D_POST, D_POST_ERR);

const X_TICKS = [0, 10, 20, 30, 40, 50];

export default function App() {
  return (
    <div style={{
      position: 'absolute', left: 0, top: 0, width: 1030, height: 847, overflow: 'hidden',
      background: '#fff', fontFamily: '"DejaVu Sans", sans-serif',
    }}>
      <Panel left={0} top={0} width={520} lW={59} rW={33} rows={rowsA} order={A_ORDER} hasInit
        xDomain={[0, 54.1]} xTicks={X_TICKS}
        lDomain={[2100, 4200]} lTicks={[2500, 3000, 3500, 4000]}
        rDomain={[2000, 4000]} rTicks={[2000, 2250, 2500, 2750, 3000, 3250, 3500, 3750, 4000]}
        initX={2} initTop={3150} changeX={28} changeAxis="L" changeFrom={2100} changeTo={4200}
        initLabelX={98} changeLabelX={286} yTitleX={20} legendLeft={381} fadedLegend />
      <Panel left={520} top={0} width={510} lW={52} rW={26} rows={rowsB} order={B_ORDER} hasInit={false}
        xDomain={[0, 54]} xTicks={X_TICKS}
        lDomain={[0.89, 1.1]} lTicks={[0.9, 0.95, 1.0, 1.05, 1.1]}
        rDomain={[1.1, 3.0]} rTicks={[1.25, 1.5, 1.75, 2.0, 2.25, 2.5, 2.75, 3.0]}
        fmt={(v) => v.toFixed(2)}
        initX={2} initTop={0.995} changeX={28} changeAxis="R" changeFrom={1.1} changeTo={2.05}
        initLabelX={92} changeLabelX={282} yTitleX={17} legendLeft={380} />
      <Panel left={0} top={422} width={520} lW={47} rW={23} rows={rowsC} order={C_ORDER} hasInit
        xDomain={[0, 54]} xTicks={X_TICKS}
        lDomain={[20, 60]} lTicks={[20, 30, 40, 50, 60]}
        rDomain={[35, 70]} rTicks={[35, 40, 45, 50, 55, 60, 65, 70]}
        initX={2} initTop={41} changeX={28} changeAxis="L" changeFrom={20} changeTo={60}
        initLabelX={88} changeLabelX={287} yTitleX={20} legendLeft={393} />
      <Panel left={520} top={422} width={510} lW={43} rW={17} rows={rowsD} order={D_ORDER} hasInit
        xDomain={[7, 65]} xTicks={[10, 20, 30, 40, 50, 60]}
        lDomain={[-2, 17]} lTicks={[0, 5, 10, 15]}
        rDomain={[0, 25]} rTicks={[0, 5, 10, 15, 20, 25]}
        initX={11} initTop={7.5} changeX={37} changeAxis="R" changeFrom={0} changeTo={12.5} dashed
        initLabelX={97} changeLabelX={281} yTitleX={18} legendLeft={389} />
      <Caption cx={264} cy={407} tag="(a)" text="The Branin function" />
      <Caption cx={780} cy={407} tag="(b)" text="The 2-D Griewank function" />
      <Caption cx={265} cy={828} tag="(c)" text="The 2-D Ackley function" />
      <Caption cx={784} cy={828} tag="(d)" text="The 6-D Ackley function" />
    </div>
  );
}
